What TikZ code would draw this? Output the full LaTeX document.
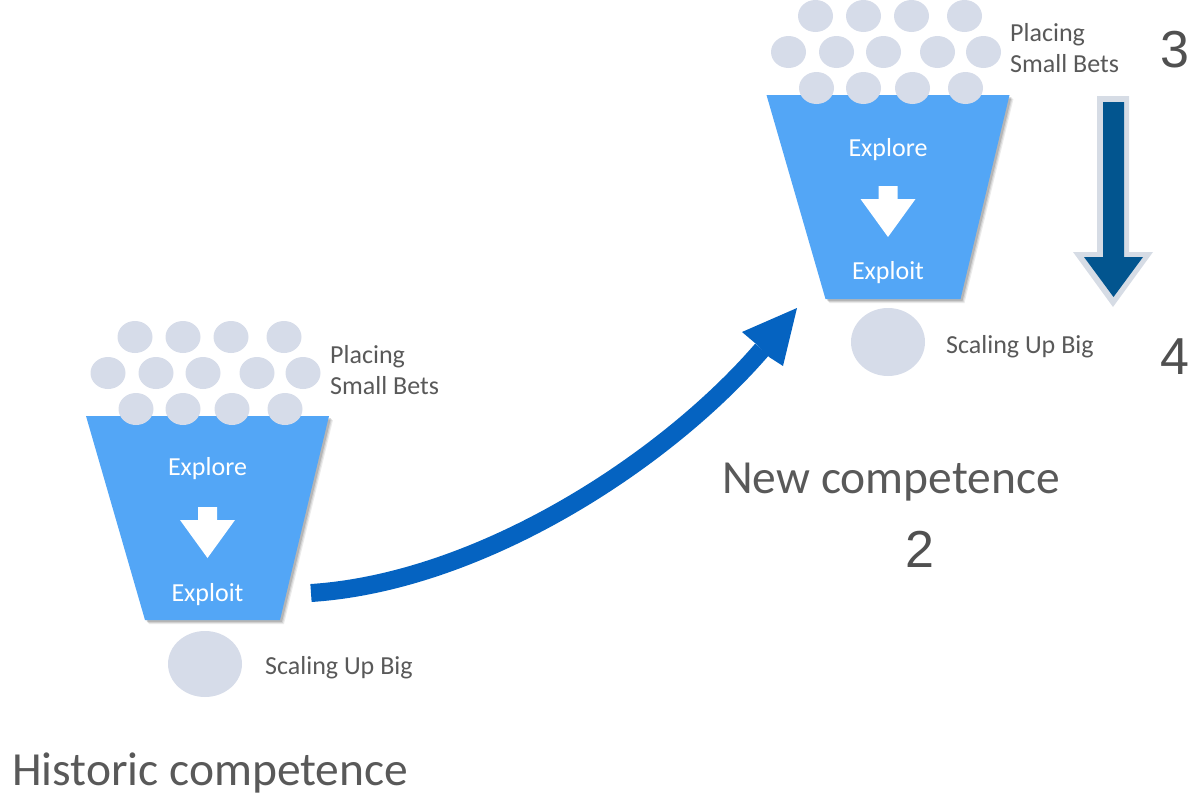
\documentclass[tikz,border=0pt]{standalone}
\usepackage{fontspec}
\setmainfont{Carlito}
\newfontfamily\numfont{Liberation Sans}
\definecolor{funnelblue}{HTML}{53A6F6}
\definecolor{betgray}{HTML}{D6DCE9}
\definecolor{curveblue}{HTML}{0563C1}
\definecolor{darkarrow}{HTML}{02558F}
\definecolor{arrowedge}{HTML}{D6DCE5}
\definecolor{txtgray}{HTML}{595959}
\tikzset{
  bet/.style={fill=betgray, draw=none},
  small/.style={text=txtgray, font=\fontsize{26}{31}\selectfont, inner sep=0pt},
  intext/.style={text=white, font=\fontsize{26}{31}\selectfont, inner sep=0pt},
  big/.style={text=txtgray, font=\fontsize{47.5}{54}\selectfont, inner sep=0pt},
  num/.style={text=txtgray!90!black, font=\numfont\fontsize{52}{60}\selectfont, inner sep=0pt},
}
\newcommand{\funnel}[2]{% #1 = x shift, #2 = y shift
  \begin{scope}[shift={(#1,#2)}]
    \foreach \d/\o in {4/0.08,3/0.10,2/0.14}
      \fill[black, opacity=\o] (86+\d,416+\d) -- (329+\d,416+\d) -- (280+\d,620+\d) -- (145+\d,620+\d) -- cycle;
    \fill[funnelblue] (86,416) -- (329,416) -- (280,620) -- (145,620) -- cycle;
    \fill[white] (198,507) -- (217,507) -- (217,520) -- (235,520) -- (207.5,558) -- (180,520) -- (198,520) -- cycle;
    \foreach \x in {135,183,231,284} \fill[bet] (\x,337) ellipse [x radius=17.5, y radius=16];
    \foreach \x in {108,156,203,257,303} \fill[bet] (\x,373) ellipse [x radius=17.5, y radius=16];
    \foreach \x in {136,183,232,285} \fill[bet] (\x,409) ellipse [x radius=17.5, y radius=16];
  \end{scope}}
\begin{document}
\begin{tikzpicture}[x=1pt,y=-1pt]
\useasboundingbox (0,0) rectangle (1191,795);
% left funnel
\funnel{0}{0}
\node[intext] (lexplore) at (207.5,469) {Explore};
\node[intext] (lexploit) at (207.5,595) {Exploit};
\coordinate (lbig) at (205,664);
\fill[betgray] (lbig) ellipse [x radius=37, y radius=33];
\node[small, anchor=west] (lscale) at (265,668) {Scaling Up Big};
\node[small, anchor=north west, align=left] (lplace) at (330,345) {Placing\\Small Bets};
\node[big, anchor=west] (hist) at (12,773) {Historic competence};
% right funnel
\funnel{680.5}{-321}
\node[intext] (rexplore) at (888,150) {Explore};
\node[intext] (rexploit) at (888,273) {Exploit};
\coordinate (rbig) at (888,342);
\fill[betgray] (rbig) ellipse [x radius=37, y radius=34];
\node[small, anchor=west] (rscale) at (946,347) {Scaling Up Big};
\node[small, anchor=north west, align=left] (rplace) at (1010,23) {Placing\\Small Bets};
\node[big] (newc) at (891,482) {New competence};
\node[num] (two) at (920,549) {2};
\node[num] (three) at (1175,50) {3};
\node[num] (four) at (1175,357) {4};
% curved arrow
\coordinate (cstart) at (311,593);
\coordinate (cend) at (762,349.5);
\draw[curveblue, line width=18pt] (cstart) .. controls (480,582) and (665,462) .. (cend);
\fill[curveblue] (797,308) -- (742,332) -- (755,343) -- (769,357) -- (783,366) -- cycle;
% down arrow 3 -> 4
\fill[arrowedge] (1097,96) -- (1129,96) -- (1129,252) -- (1153,252) -- (1113,307) -- (1073,252) -- (1097,252) -- cycle;
\fill[darkarrow] (1103,102) -- (1124,102) -- (1124,257) -- (1143,257) -- (1113.5,297) -- (1084,257) -- (1103,257) -- cycle;
\end{tikzpicture}
\end{document}
